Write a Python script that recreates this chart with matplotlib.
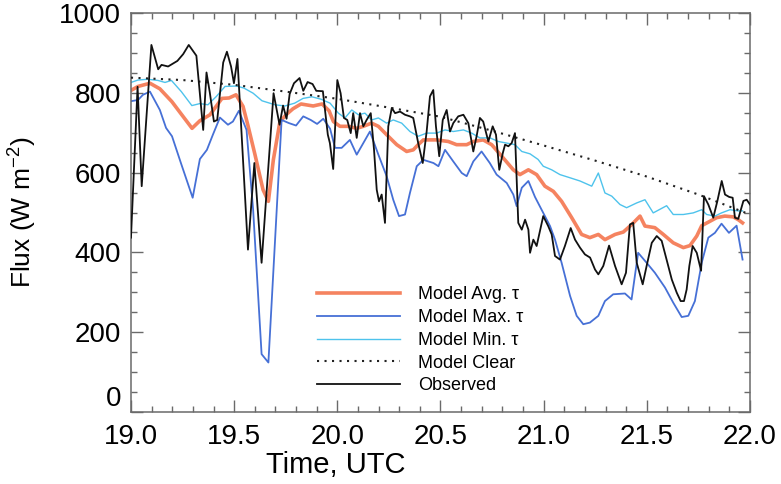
import matplotlib
matplotlib.use("Agg")
import matplotlib.pyplot as plt
from matplotlib.ticker import MultipleLocator, FormatStrFormatter

plt.rcParams['font.family'] = ['Liberation Sans', 'DejaVu Sans']
plt.rcParams['mathtext.default'] = 'regular'

# Observed flux (W m-2) vs time (UTC hours)
obs_t = [19.000, 19.032, 19.052, 19.099, 19.132, 19.148, 19.180, 19.225, 19.253, 19.280,
         19.317, 19.350, 19.366, 19.382, 19.402, 19.418, 19.447, 19.465, 19.485, 19.499,
         19.516, 19.567, 19.598, 19.633, 19.691, 19.720, 19.737, 19.754, 19.769, 19.790,
         19.817, 19.835, 19.856, 19.880, 19.898, 19.930, 19.954, 19.964, 19.980, 20.000,
         20.016, 20.032, 20.048, 20.065, 20.077, 20.094, 20.110, 20.126, 20.142, 20.162,
         20.178, 20.191, 20.202, 20.215, 20.231, 20.247, 20.264, 20.280, 20.304, 20.328,
         20.352, 20.368, 20.392, 20.414, 20.433, 20.449, 20.465, 20.478, 20.494, 20.511,
         20.530, 20.546, 20.562, 20.586, 20.611, 20.635, 20.659, 20.675, 20.691, 20.707,
         20.732, 20.753, 20.769, 20.785, 20.802, 20.813, 20.829, 20.845, 20.861, 20.877,
         20.894, 20.910, 20.926, 20.934, 20.950, 20.966, 20.998, 21.022, 21.039, 21.055,
         21.079, 21.103, 21.131, 21.152, 21.176, 21.200, 21.225, 21.249, 21.265, 21.289,
         21.317, 21.346, 21.378, 21.399, 21.418, 21.434, 21.451, 21.480, 21.499, 21.524,
         21.548, 21.572, 21.596, 21.621, 21.645, 21.664, 21.680, 21.693, 21.706, 21.722,
         21.742, 21.763, 21.777, 21.798, 21.822, 21.842, 21.863, 21.879, 21.899, 21.916,
         21.927, 21.943, 21.968, 21.984, 22.000]
obs_f = [437, 815, 566, 920, 859, 870, 866, 880, 897, 920,
         893, 707, 851, 801, 728, 732, 876, 903, 866, 824,
         885, 407, 624, 374, 799, 720, 768, 735, 797, 824,
         837, 805, 827, 822, 805, 804, 695, 674, 609, 832,
         799, 737, 732, 699, 749, 687, 749, 716, 732, 749,
         657, 557, 528, 545, 474, 716, 762, 749, 753, 745,
         741, 737, 674, 624, 703, 791, 807, 716, 641, 732,
         757, 703, 724, 741, 745, 724, 653, 691, 737, 728,
         678, 716, 695, 607, 649, 670, 666, 674, 699, 474,
         457, 482, 457, 399, 432, 416, 491, 466, 445, 391,
         382, 416, 461, 432, 412, 395, 387, 357, 345, 366,
         417, 366, 320, 349, 470, 474, 374, 320, 366, 424,
         441, 429, 382, 332, 299, 278, 278, 307, 366, 416,
         399, 354, 541, 520, 487, 529, 579, 545, 539, 537,
         487, 484, 529, 532, 520]

# Model average tau
avg_t = [19.000, 19.034, 19.092, 19.140, 19.198, 19.252, 19.296, 19.334, 19.383, 19.441,
         19.475, 19.509, 19.543, 19.567, 19.601, 19.640, 19.666, 19.690, 19.722, 19.756,
         19.785, 19.824, 19.883, 19.926, 19.960, 19.981, 20.013, 20.053, 20.094, 20.126,
         20.166, 20.199, 20.239, 20.288, 20.336, 20.368, 20.392, 20.417, 20.481, 20.538,
         20.578, 20.627, 20.659, 20.707, 20.748, 20.797, 20.853, 20.885, 20.926, 20.966,
         21.006, 21.047, 21.087, 21.136, 21.184, 21.224, 21.265, 21.297, 21.346, 21.386,
         21.427, 21.467, 21.491, 21.539, 21.580, 21.628, 21.677, 21.709, 21.742, 21.766,
         21.806, 21.838, 21.878, 21.919, 21.943, 21.964]
avg_f = [806, 816, 824, 810, 778, 741, 711, 730, 745, 786,
         787, 795, 766, 718, 645, 557, 528, 632, 728, 747,
         760, 772, 767, 772, 755, 728, 716, 716, 711, 716,
         724, 716, 695, 670, 653, 657, 670, 682, 682, 678,
         670, 670, 678, 682, 670, 641, 607, 595, 607, 595,
         566, 553, 528, 487, 445, 437, 445, 432, 445, 451,
         470, 491, 466, 462, 445, 424, 412, 417, 441, 467,
         478, 487, 491, 489, 482, 474]

# Model max tau
max_t = [19.000, 19.034, 19.058, 19.092, 19.140, 19.170, 19.199, 19.242, 19.299, 19.334,
         19.368, 19.397, 19.431, 19.470, 19.494, 19.523, 19.560, 19.592, 19.633, 19.666,
         19.730, 19.766, 19.800, 19.835, 19.871, 19.902, 19.932, 19.965, 19.989, 20.021,
         20.061, 20.094, 20.158, 20.199, 20.239, 20.271, 20.299, 20.328, 20.352, 20.385,
         20.417, 20.466, 20.490, 20.522, 20.562, 20.603, 20.627, 20.659, 20.699, 20.739,
         20.772, 20.821, 20.853, 20.869, 20.894, 20.926, 20.958, 20.998, 21.031, 21.055,
         21.087, 21.128, 21.160, 21.192, 21.224, 21.265, 21.297, 21.337, 21.394, 21.426,
         21.458, 21.499, 21.539, 21.588, 21.628, 21.669, 21.701, 21.733, 21.766, 21.798,
         21.830, 21.862, 21.898, 21.935, 21.964]
max_f = [779, 782, 795, 803, 757, 712, 691, 624, 537, 634,
         657, 695, 738, 720, 728, 755, 707, 507, 145, 124,
         732, 724, 718, 741, 732, 722, 735, 710, 662, 662,
         682, 645, 703, 645, 591, 532, 491, 495, 549, 616,
         632, 624, 616, 657, 628, 599, 591, 628, 653, 624,
         595, 574, 545, 516, 562, 579, 539, 499, 466, 432,
         374, 291, 241, 220, 224, 241, 278, 295, 297, 282,
         399, 374, 349, 312, 274, 238, 241, 278, 374, 437,
         449, 472, 449, 467, 382]

# Model min tau
min_t = [19.000, 19.034, 19.082, 19.131, 19.165, 19.196, 19.244, 19.295, 19.334, 19.373,
         19.414, 19.456, 19.511, 19.547, 19.592, 19.635, 19.698, 19.746, 19.793, 19.834,
         19.877, 19.921, 19.965, 20.005, 20.037, 20.070, 20.102, 20.134, 20.166, 20.199,
         20.239, 20.271, 20.312, 20.352, 20.392, 20.433, 20.481, 20.522, 20.562, 20.611,
         20.651, 20.691, 20.740, 20.780, 20.821, 20.861, 20.894, 20.934, 20.973, 20.998,
         21.039, 21.079, 21.128, 21.176, 21.233, 21.265, 21.297, 21.330, 21.370, 21.402,
         21.451, 21.491, 21.531, 21.596, 21.628, 21.677, 21.725, 21.766, 21.790, 21.830,
         21.862, 21.903, 21.943, 21.964]
min_f = [826, 832, 834, 831, 826, 831, 803, 768, 773, 770,
         791, 816, 817, 812, 799, 780, 770, 767, 774, 786,
         790, 784, 774, 749, 737, 757, 745, 749, 732, 737,
         724, 732, 724, 703, 691, 699, 699, 707, 703, 707,
         699, 687, 687, 678, 674, 670, 653, 647, 633, 616,
         607, 595, 587, 579, 566, 599, 549, 541, 520, 512,
         524, 532, 499, 517, 495, 495, 499, 507, 495, 491,
         499, 507, 504, 504]

# Model clear sky
clear_t = [19.00, 19.25, 19.50, 19.75, 20.00, 20.25, 20.50, 20.75, 21.00, 21.25,
           21.50, 21.75, 22.00]
clear_f = [838, 832, 820, 803, 785, 763, 740, 705, 668, 630, 590, 545, 495]

fig = plt.figure(figsize=(7.81, 4.84), dpi=100)
ax = fig.add_axes([0.1677, 0.1488, 0.7926, 0.8243])

ax.plot(avg_t, avg_f, color='#F4764F', lw=2.6, alpha=0.9, label=u'Model Avg. \u03c4', zorder=2)
ax.plot(max_t, max_f, color='#4670D6', lw=1.3, label=u'Model Max. \u03c4', zorder=2)
ax.plot(min_t, min_f, color='#4EC3EC', lw=1.0, label=u'Model Min. \u03c4', zorder=2)
ax.plot(clear_t, clear_f, color='#222222', lw=1.5, linestyle=(0, (1, 2.6)), label='Model Clear', zorder=3)
ax.plot(obs_t, obs_f, color='#111111', lw=1.3, label='Observed', zorder=4)

ax.set_xlim(19.0, 22.0)
ax.set_ylim(0, 1000)
ax.xaxis.set_major_locator(MultipleLocator(0.5))
ax.xaxis.set_minor_locator(MultipleLocator(0.1))
ax.xaxis.set_major_formatter(FormatStrFormatter('%.1f'))
ax.yaxis.set_major_locator(MultipleLocator(200))
ax.yaxis.set_minor_locator(MultipleLocator(50))

for s in ax.spines.values():
    s.set_color('#6a6a6a')
    s.set_linewidth(1.1)
ax.tick_params(which='both', direction='in', top=True, right=True, color='#6a6a6a', width=1.0)
ax.tick_params(which='major', length=8.5, labelsize=20)
ax.tick_params(which='minor', length=4)
ax.tick_params(axis='x', which='major', pad=9)
ax.tick_params(axis='y', which='major', pad=7)

# the "0" label sits above its tick so it clears "19.0"
ax.get_yticklabels()
for tk in ax.yaxis.get_major_ticks():
    if abs(tk.get_loc()) < 1e-9:
        tk.label1.set_verticalalignment('bottom')

ax.set_xlabel('Time, UTC', fontsize=21)
ax.xaxis.set_label_coords(0.331, -0.098)
ax.set_ylabel('Flux (W m$^{-2}$)', fontsize=19)
ax.yaxis.set_label_coords(-0.148, 0.5)

leg = ax.legend(loc='upper left', bbox_to_anchor=(0.300, 0.315), frameon=False, fontsize=13,
                handlelength=4.6, handletextpad=1.0, labelspacing=0.32,
                borderpad=0, borderaxespad=0)

fig.savefig('out.png', dpi=100)
